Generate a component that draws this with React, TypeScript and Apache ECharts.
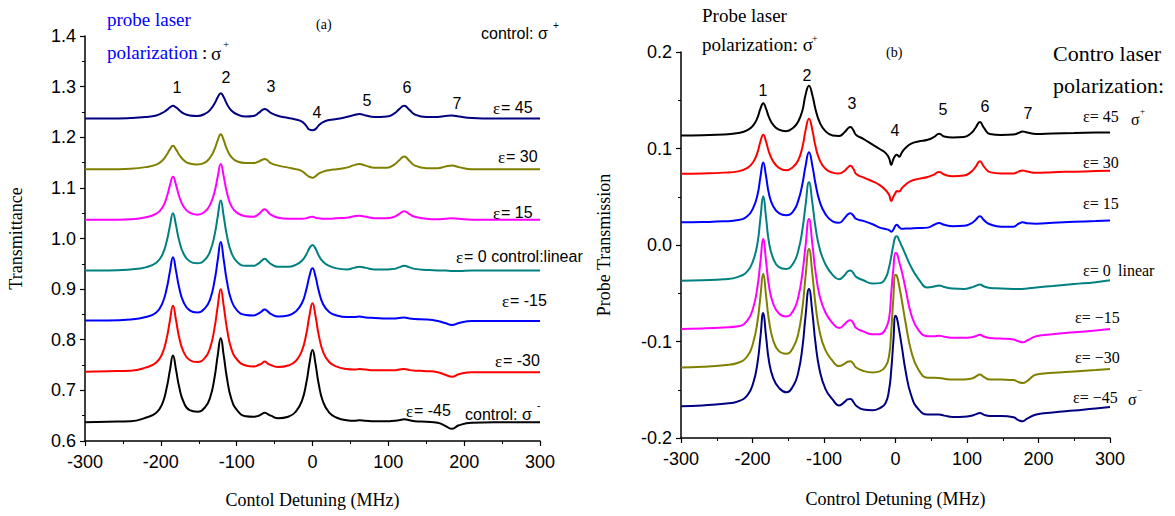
import React, { useEffect, useRef } from "react";
import * as echarts from "echarts";

// ---------- Panel (a) data ----------
const XA = [-300,-270,-240,-220,-206,-198,-192,-188,-184,-180,-176,-170,-162,-152,-142,-135,-129,-125,-121,-117,-113,-107,-99,-88,-78,-71,-67,-63,-59,-55,-45,-32,-22,-14,-8,-4,0,4,8,14,22,32,45,55,62,70,82,98,108,114,121,128,135,150,165,175,184,193,210,240,270,300];

const aEps45 = [1.237,1.237,1.238,1.240,1.243,1.248,1.254,1.259,1.262,1.259,1.254,1.247,1.243,1.242,1.246,1.254,1.267,1.279,1.287,1.279,1.266,1.253,1.245,1.241,1.242,1.248,1.253,1.256,1.253,1.248,1.242,1.238,1.235,1.231,1.222,1.215,1.214,1.216,1.223,1.230,1.234,1.236,1.240,1.244,1.246,1.243,1.240,1.241,1.247,1.255,1.262,1.254,1.245,1.240,1.240,1.242,1.243,1.241,1.238,1.237,1.237,1.237];
const aEps30 = [1.137,1.137,1.138,1.141,1.146,1.154,1.166,1.176,1.183,1.176,1.166,1.155,1.148,1.146,1.150,1.160,1.177,1.194,1.206,1.194,1.177,1.161,1.152,1.149,1.149,1.152,1.155,1.157,1.154,1.149,1.144,1.140,1.137,1.133,1.126,1.122,1.120,1.123,1.128,1.132,1.135,1.137,1.140,1.145,1.147,1.144,1.140,1.140,1.146,1.154,1.162,1.153,1.144,1.139,1.139,1.142,1.144,1.141,1.137,1.137,1.137,1.137];
const aEps15 = [1.037,1.037,1.038,1.042,1.049,1.061,1.083,1.105,1.122,1.106,1.084,1.063,1.051,1.047,1.053,1.067,1.093,1.122,1.147,1.122,1.092,1.064,1.050,1.044,1.043,1.048,1.054,1.058,1.053,1.047,1.041,1.039,1.039,1.039,1.040,1.042,1.043,1.041,1.040,1.039,1.039,1.040,1.041,1.044,1.045,1.043,1.040,1.040,1.043,1.048,1.054,1.048,1.043,1.039,1.038,1.039,1.040,1.039,1.037,1.037,1.037,1.037];
const aEps0 = [0.937,0.937,0.939,0.943,0.952,0.968,0.996,1.025,1.050,1.026,0.997,0.970,0.955,0.951,0.958,0.975,1.008,1.043,1.075,1.043,1.007,0.972,0.953,0.946,0.946,0.951,0.956,0.960,0.955,0.950,0.944,0.944,0.948,0.956,0.969,0.981,0.987,0.980,0.967,0.954,0.946,0.941,0.939,0.942,0.944,0.942,0.939,0.939,0.940,0.943,0.946,0.943,0.940,0.938,0.937,0.937,0.936,0.936,0.937,0.937,0.937,0.937];
const aEpsM15 = [0.838,0.838,0.840,0.845,0.854,0.872,0.903,0.935,0.963,0.936,0.904,0.874,0.858,0.854,0.862,0.880,0.918,0.957,0.993,0.957,0.917,0.878,0.857,0.849,0.848,0.852,0.856,0.860,0.856,0.851,0.846,0.848,0.856,0.872,0.900,0.926,0.941,0.925,0.898,0.870,0.855,0.848,0.845,0.845,0.846,0.844,0.843,0.842,0.842,0.843,0.844,0.842,0.841,0.840,0.837,0.833,0.829,0.833,0.837,0.837,0.837,0.837];
const aEpsM30 = [0.737,0.738,0.739,0.745,0.755,0.773,0.805,0.838,0.867,0.839,0.806,0.776,0.760,0.756,0.764,0.784,0.825,0.866,0.900,0.866,0.824,0.782,0.760,0.749,0.747,0.750,0.753,0.757,0.753,0.750,0.746,0.749,0.758,0.778,0.813,0.848,0.872,0.847,0.811,0.776,0.756,0.747,0.742,0.741,0.742,0.741,0.740,0.740,0.740,0.741,0.742,0.740,0.739,0.738,0.736,0.731,0.727,0.732,0.736,0.736,0.736,0.736];
const aEpsM45 = [0.637,0.638,0.639,0.646,0.656,0.674,0.707,0.740,0.769,0.741,0.708,0.677,0.661,0.658,0.666,0.686,0.727,0.769,0.803,0.768,0.726,0.683,0.660,0.649,0.648,0.650,0.653,0.656,0.653,0.650,0.645,0.648,0.658,0.679,0.716,0.753,0.780,0.752,0.714,0.677,0.656,0.646,0.641,0.640,0.641,0.640,0.639,0.639,0.640,0.641,0.643,0.641,0.639,0.638,0.636,0.630,0.624,0.631,0.636,0.637,0.637,0.637];

// ---------- Panel (b) data ----------
const XB = [-300,-270,-240,-220,-207,-199,-193,-189,-185,-181,-177,-171,-163,-153,-143,-136,-130,-126,-121,-116,-112,-106,-98,-88,-79,-71,-67,-63,-59,-55,-45,-32,-22,-14,-9,-6,-3,0,2,5,9,14,22,32,45,54,61,68,80,96,106,112,118,124,132,148,165,172,178,184,197,220,250,280,300];

const bEps45 = [0.1135,0.1138,0.1145,0.1160,0.1190,0.1240,0.1320,0.1410,0.1470,0.1410,0.1325,0.1245,0.1195,0.1180,0.1215,0.1280,0.1400,0.1550,0.1650,0.1545,0.1410,0.1270,0.1180,0.1135,0.1130,0.1170,0.1205,0.1223,0.1190,0.1140,0.1100,0.1040,0.0995,0.0955,0.0900,0.0830,0.0890,0.0930,0.0936,0.0915,0.0960,0.1005,0.1050,0.1072,0.1090,0.1120,0.1154,0.1125,0.1115,0.1120,0.1160,0.1215,0.1275,0.1210,0.1150,0.1140,0.1145,0.1160,0.1177,0.1165,0.1150,0.1155,0.1160,0.1165,0.1167];
const bEps30 = [0.0739,0.0742,0.0750,0.0763,0.0800,0.0860,0.0960,0.1070,0.1143,0.1070,0.0965,0.0865,0.0800,0.0775,0.0810,0.0880,0.1020,0.1180,0.1309,0.1180,0.1025,0.0880,0.0790,0.0750,0.0740,0.0770,0.0800,0.0820,0.0790,0.0735,0.0700,0.0660,0.0620,0.0570,0.0520,0.0455,0.0500,0.0540,0.0560,0.0555,0.0590,0.0625,0.0665,0.0685,0.0705,0.0730,0.0757,0.0730,0.0712,0.0720,0.0760,0.0810,0.0867,0.0810,0.0755,0.0740,0.0742,0.0760,0.0773,0.0762,0.0748,0.0755,0.0760,0.0766,0.0770];
const bEps15 = [0.0235,0.0238,0.0245,0.0258,0.0300,0.0385,0.0520,0.0700,0.0856,0.0710,0.0530,0.0400,0.0330,0.0307,0.0350,0.0460,0.0640,0.0810,0.0960,0.0810,0.0640,0.0450,0.0320,0.0245,0.0230,0.0280,0.0315,0.0330,0.0305,0.0270,0.0250,0.0215,0.0180,0.0165,0.0155,0.0138,0.0160,0.0200,0.0210,0.0185,0.0168,0.0170,0.0172,0.0175,0.0180,0.0210,0.0228,0.0210,0.0195,0.0200,0.0225,0.0260,0.0297,0.0255,0.0215,0.0190,0.0190,0.0220,0.0235,0.0225,0.0220,0.0230,0.0240,0.0248,0.0255];
const bEps0 = [-0.0370,-0.0365,-0.0355,-0.0330,-0.0270,-0.0160,0.0020,0.0270,0.0504,0.0280,0.0030,-0.0140,-0.0230,-0.0248,-0.0190,-0.0060,0.0170,0.0400,0.0650,0.0420,0.0190,-0.0040,-0.0200,-0.0310,-0.0355,-0.0310,-0.0275,-0.0263,-0.0290,-0.0330,-0.0365,-0.0400,-0.0395,-0.0345,-0.0230,-0.0120,0.0000,0.0085,0.0090,0.0050,-0.0015,-0.0100,-0.0230,-0.0350,-0.0440,-0.0430,-0.0420,-0.0435,-0.0452,-0.0455,-0.0440,-0.0425,-0.0410,-0.0430,-0.0445,-0.0450,-0.0455,-0.0456,-0.0455,-0.0452,-0.0440,-0.0425,-0.0405,-0.0385,-0.0366];
const bEpsM15 = [-0.0870,-0.0865,-0.0855,-0.0843,-0.0780,-0.0650,-0.0430,-0.0180,0.0066,-0.0170,-0.0420,-0.0610,-0.0710,-0.0740,-0.0680,-0.0540,-0.0280,-0.0020,0.0270,-0.0010,-0.0270,-0.0530,-0.0700,-0.0810,-0.0860,-0.0820,-0.0790,-0.0780,-0.0810,-0.0860,-0.0895,-0.0925,-0.0925,-0.0870,-0.0760,-0.0500,-0.0250,-0.0083,-0.0090,-0.0170,-0.0280,-0.0450,-0.0720,-0.0880,-0.0945,-0.0945,-0.0940,-0.0950,-0.0962,-0.0962,-0.0955,-0.0945,-0.0930,-0.0950,-0.0963,-0.0970,-0.0980,-0.0998,-0.1008,-0.0990,-0.0946,-0.0925,-0.0905,-0.0885,-0.0870];
const bEpsM30 = [-0.1270,-0.1262,-0.1245,-0.1220,-0.1150,-0.1010,-0.0790,-0.0540,-0.0297,-0.0530,-0.0780,-0.0990,-0.1100,-0.1126,-0.1060,-0.0920,-0.0640,-0.0340,-0.0041,-0.0320,-0.0610,-0.0900,-0.1090,-0.1200,-0.1255,-0.1230,-0.1210,-0.1205,-0.1230,-0.1270,-0.1305,-0.1320,-0.1310,-0.1260,-0.1150,-0.0900,-0.0550,-0.0307,-0.0320,-0.0420,-0.0580,-0.0800,-0.1100,-0.1290,-0.1375,-0.1375,-0.1377,-0.1385,-0.1395,-0.1395,-0.1385,-0.1365,-0.1343,-0.1370,-0.1393,-0.1395,-0.1400,-0.1420,-0.1430,-0.1410,-0.1343,-0.1325,-0.1310,-0.1295,-0.1284];
const bEpsM45 = [-0.1670,-0.1662,-0.1645,-0.1620,-0.1555,-0.1430,-0.1220,-0.0960,-0.0704,-0.0950,-0.1200,-0.1380,-0.1480,-0.1527,-0.1460,-0.1320,-0.1050,-0.0750,-0.0455,-0.0720,-0.1010,-0.1300,-0.1490,-0.1600,-0.1662,-0.1625,-0.1600,-0.1595,-0.1625,-0.1665,-0.1705,-0.1712,-0.1690,-0.1640,-0.1500,-0.1300,-0.1000,-0.0732,-0.0760,-0.0880,-0.1060,-0.1300,-0.1560,-0.1700,-0.1757,-0.1757,-0.1757,-0.1768,-0.1782,-0.1780,-0.1770,-0.1755,-0.1740,-0.1760,-0.1771,-0.1771,-0.1785,-0.1815,-0.1827,-0.1800,-0.1757,-0.1735,-0.1715,-0.1695,-0.1678];

const A_TICKS_X = [-300, 300, 100];
const A_TICKS_Y = [0.6, 1.4, 0.1];
const B_TICKS_X = [-300, 300, 100];
const B_TICKS_Y = [-0.2, 0.2, 0.1];

const SANS = "Liberation Sans, Arial, sans-serif";
const SERIF = "Liberation Serif, Times New Roman, serif";

function zip(xs: number[], ys: number[]) {
  return xs.map((x, i) => [x, ys[i]]);
}

function line(name: string, xs: number[], ys: number[], color: string, idx: number, width: number) {
  return {
    name,
    type: "line",
    xAxisIndex: idx,
    yAxisIndex: idx,
    data: zip(xs, ys),
    showSymbol: false,
    smooth: 0.5,
    lineStyle: { color, width },
    itemStyle: { color },
    z: 3,
  };
}

function xAxis(idx: number, t: number[], name: string, gap: number) {
  return {
    type: "value",
    gridIndex: idx,
    min: t[0],
    max: t[1],
    interval: t[2],
    name,
    nameLocation: "middle",
    nameGap: gap,
    nameTextStyle: { fontFamily: SERIF, fontSize: 18, color: "#000" },
    axisLine: { show: true, onZero: false, lineStyle: { color: "#000", width: 1.5 } },
    axisTick: { show: true, length: 5, lineStyle: { color: "#000", width: 1.2 } },
    minorTick: { show: true, splitNumber: 2, length: 3, lineStyle: { color: "#000", width: 1 } },
    axisLabel: { fontFamily: SANS, fontSize: 18, color: "#000", margin: 12 },
    splitLine: { show: false },
  };
}

function yAxis(idx: number, t: number[], name: string, gap: number) {
  return {
    type: "value",
    gridIndex: idx,
    min: t[0],
    max: t[1],
    interval: t[2],
    name,
    nameLocation: "middle",
    nameGap: gap,
    nameTextStyle: { fontFamily: SERIF, fontSize: 18, color: "#000" },
    axisLine: { show: true, onZero: false, lineStyle: { color: "#000", width: 1.5 } },
    axisTick: { show: true, length: 5, lineStyle: { color: "#000", width: 1.2 } },
    minorTick: { show: true, splitNumber: 2, length: 3, lineStyle: { color: "#000", width: 1 } },
    axisLabel: {
      fontFamily: SANS,
      fontSize: 18,
      color: "#000",
      margin: 9,
      formatter: (v: number) => (Math.abs(v) < 1e-9 ? 0 : v).toFixed(1),
    },
    splitLine: { show: false },
  };
}

function T(text: string, x: number, y: number, opts: any = {}) {
  return {
    type: "text",
    x,
    y,
    z: 10,
    style: {
      text,
      fontFamily: opts.family || SANS,
      fontSize: opts.size || 16,
      fill: opts.fill || "#000",
      textAlign: opts.align || "center",
      textVerticalAlign: "middle",
    },
  };
}

const SR = (size: number, align = "left", fill = "#000") => ({ family: SERIF, size, align, fill });
const SA = (size: number, align = "left", fill = "#000") => ({ family: SANS, size, align, fill });

// ε label for panel (a): serif ε followed by sans text
function EA(rest: string, x: number, y: number) {
  return [T("ε", x, y + 1, SR(17)), T(rest, x + 8, y, SA(16))];
}

export default function App() {
  const ref = useRef<HTMLDivElement>(null);
  useEffect(() => {
    if (!ref.current) return;
    const chart = echarts.init(ref.current, undefined, { renderer: "svg" });
    const graphic: any[] = [
      // panel (a)
      T("probe laser", 107, 19, SR(19, "left", "#0000ff")),
      T("polarization", 107, 52, SR(19, "left", "#0000ff")),
      T(":", 202, 52, SR(19)),
      T("σ", 211, 53, SR(19)),
      T("+", 223, 44, SR(11)),
      T("(a)", 316, 24, SR(14)),
      T("control: σ", 481, 33, SA(16)),
      T("+", 553, 25, SA(10)),
      T("1", 177, 87, SA(16, "center")),
      T("2", 226, 77, SA(16, "center")),
      T("3", 271, 86, SA(16, "center")),
      T("4", 317, 112, SA(16, "center")),
      T("5", 367, 100, SA(16, "center")),
      T("6", 407, 87, SA(16, "center")),
      T("7", 457, 103, SA(16, "center")),
      ...EA("= 45", 493, 107),
      ...EA("= 30", 498, 156),
      ...EA("= 15", 493, 212),
      ...EA("= 0 control:linear", 456, 256),
      ...EA("= -15", 502, 300),
      ...EA("= -30", 495, 360),
      ...EA("= -45", 406, 410),
      T("control: σ", 465, 414, SA(16)),
      T("-", 537, 405, SA(10)),
      // panel (b)
      T("Probe laser", 702, 15, SR(19)),
      T("polarization: σ", 702, 44, SR(19)),
      T("+", 812, 38, SR(10)),
      T("(b)", 886, 52, SR(14)),
      T("Contro laser", 1053, 53, SR(22)),
      T("polarization:", 1053, 85, SR(22)),
      T("1", 763, 90, SA(16, "center")),
      T("2", 807, 75, SA(16, "center")),
      T("3", 852, 103, SA(16, "center")),
      T("4", 895, 130, SA(16, "center")),
      T("5", 943, 109, SA(16, "center")),
      T("6", 985, 106, SA(16, "center")),
      T("7", 1028, 113, SA(16, "center")),
      T("ε= 45", 1083, 116, SR(16)),
      T("σ", 1131, 119, SR(16)),
      T("+", 1140, 111, SR(9)),
      T("ε= 30", 1083, 162, SR(16)),
      T("ε= 15", 1083, 203, SR(16)),
      T("ε= 0", 1083, 270, SR(16)),
      T("linear", 1118, 270, SR(16)),
      T("ε= −15", 1075, 317, SR(16)),
      T("ε= −30", 1075, 357, SR(16)),
      T("ε= −45", 1073, 397, SR(16)),
      T("σ", 1128, 399, SR(16)),
      T("−", 1137, 390, SR(9)),
    ];

    chart.setOption({
      animation: false,
      backgroundColor: "#fff",
      grid: [
        { left: 85, right: 635, top: 36, bottom: 75 },
        { left: 681, right: 65, top: 52, bottom: 78 },
      ],
      xAxis: [
        xAxis(0, A_TICKS_X, "Contol Detuning (MHz)", 50),
        xAxis(1, B_TICKS_X, "Control Detuning (MHz)", 52),
      ],
      yAxis: [
        yAxis(0, A_TICKS_Y, "Transmittance", 60),
        yAxis(1, B_TICKS_Y, "Probe Transmission", 68),
      ],
      series: [
        line("a ε=45", XA, aEps45, "#000080", 0, 2),
        line("a ε=30", XA, aEps30, "#808000", 0, 2),
        line("a ε=15", XA, aEps15, "#ff00ff", 0, 2),
        line("a ε=0", XA, aEps0, "#008080", 0, 2),
        line("a ε=-15", XA, aEpsM15, "#0000ff", 0, 2),
        line("a ε=-30", XA, aEpsM30, "#ff0000", 0, 2),
        line("a ε=-45", XA, aEpsM45, "#000000", 0, 2),
        line("b ε=45", XB, bEps45, "#000000", 1, 2),
        line("b ε=30", XB, bEps30, "#ff0000", 1, 2),
        line("b ε=15", XB, bEps15, "#0000ff", 1, 2),
        line("b ε=0", XB, bEps0, "#008080", 1, 2),
        line("b ε=-15", XB, bEpsM15, "#ff00ff", 1, 2),
        line("b ε=-30", XB, bEpsM30, "#808000", 1, 2),
        line("b ε=-45", XB, bEpsM45, "#000080", 1, 2),
      ],
      graphic,
    });
    return () => chart.dispose();
  }, []);
  return (
    <div
      ref={ref}
      style={{ position: "absolute", left: 0, top: 0, width: 1175, height: 516, background: "#fff" }}
    />
  );
}
